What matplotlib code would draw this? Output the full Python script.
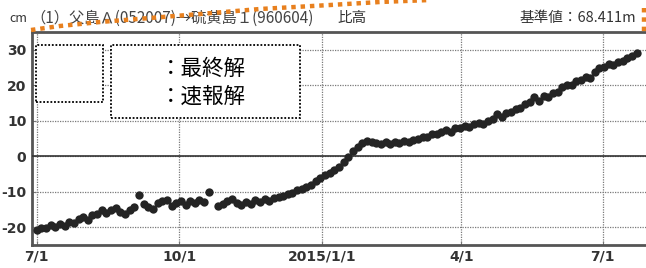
import numpy as np
import pandas as pd
import matplotlib
matplotlib.use('Agg')
import matplotlib.pyplot as plt
import matplotlib.dates as mdates
from matplotlib.lines import Line2D
from matplotlib.patches import Rectangle

plt.rcParams['axes.unicode_minus'] = False

#---DATA---
start_date = '2014-07-01'
step_days = 3
# height difference (cm), one reading every 3 days
heights = [-20.8, -20.3, -20.1, -19.4, -19.9, -19.0, -19.6, -18.4, -18.9, -17.6,
           -17.2, -17.9, -16.6, -16.2, -15.2, -16.0, -15.0, -14.6, -15.8, -16.3,
           -15.0, -14.3, -10.8, -13.4, -14.4, -14.8, -13.3, -12.7, -12.4, -13.9,
           -13.2, -12.6, -13.6, -12.5, -13.3, -12.2, -12.9, -10.1, np.nan, -13.9,
           -13.4, -12.5, -12.1, -13.1, -13.8, -12.8, -13.4, -12.4, -12.9, -12.1,
           -12.7, -11.8, -11.5, -11.2, -10.7, -10.3, -9.5, -9.2, -8.6, -8.1,
           -7.0, -6.2, -5.3, -4.7, -3.8, -2.9, -1.5, -0.3, 1.5, 2.6,
           3.6, 4.3, 4.1, 3.6, 3.4, 4.0, 3.5, 4.1, 3.6, 4.3,
           3.9, 4.7, 4.8, 5.4, 5.4, 6.2, 6.3, 6.9, 7.4, 6.9,
           7.9, 8.0, 8.6, 8.1, 9.1, 9.5, 9.0, 9.9, 10.4, 11.9,
           11.1, 12.1, 12.5, 13.3, 13.7, 14.8, 15.3, 16.6, 15.5, 17.1,
           16.6, 17.8, 18.2, 19.4, 20.2, 20.1, 21.2, 21.4, 22.2, 22.0,
           23.7, 24.9, 25.1, 25.9, 25.7, 26.6, 26.9, 27.7, 28.1, 29.2]
dates = pd.date_range(start_date, periods=len(heights), freq=f'{step_days}D')

xtick_dates = ['2014-07-01', '2014-10-01', '2015-01-01', '2015-04-01', '2015-07-01']
xtick_labels = ['7/1', '10/1', '2015/1/1', '4/1', '7/1']
yticks = [-20, -10, 0, 10, 20, 30]

title_left = '（1）父島Ａ(052007)→硫黄島１(960604)'
title_mid = '比高'
title_right = '基準値：68.411m'
legend_labels = ['：最終解', '：速報解']

#---FIGURE---
W, H = 646, 268
fig = plt.figure(figsize=(W / 100, H / 100), dpi=100)
ax = fig.add_axes([32 / W, 1 - 245 / H, 1 - 32 / W, (245 - 32) / H])

ax.plot(dates, heights, 'o', color='#242424', markersize=6.0, markeredgewidth=0, zorder=5)

ax.set_xlim(pd.Timestamp('2014-06-28'), pd.Timestamp('2015-07-29'))
ax.set_ylim(-25, 35)

ax.set_xticks([pd.Timestamp(d) for d in xtick_dates])
ax.set_xticklabels(xtick_labels)
ax.set_yticks(yticks)

tick_font = ['Liberation Sans Narrow', 'DejaVu Sans']
for lab in ax.get_xticklabels() + ax.get_yticklabels():
    lab.set_family(tick_font)
    lab.set_fontweight('bold')
    lab.set_fontsize(10)
    lab.set_color('#333333')
ax.tick_params(axis='y', length=3, width=0.8, color='#777777', direction='in', pad=4)
ax.tick_params(axis='x', length=3, width=0.8, color='#777777', direction='in', pad=3)

ax.grid(True, color='#7a7a7a', linestyle=(0, (1, 1)), linewidth=0.9)
ax.axhline(0, color='#333333', linewidth=1.2, zorder=3)

for side in ['left', 'bottom', 'top']:
    ax.spines[side].set_color('#555555')
    ax.spines[side].set_linewidth(2.0)
ax.spines['right'].set_visible(False)

#---TITLE TEXTS---
cjk = ['Noto Sans CJK JP', 'DejaVu Sans']
fig.text(9 / W, 1 - 18 / H, 'cm', fontsize=9, family=cjk, color='#333333', va='center')
fig.text(30 / W, 1 - 18 / H, title_left, fontsize=11, family=cjk, color='#444444', va='center')
fig.text(337 / W, 1 - 18 / H, title_mid, fontsize=10.5, family=cjk, color='#333333', va='center')
fig.text(520 / W, 1 - 18 / H, title_right, fontsize=10.5, family=cjk, color='#333333', va='center')

#---LEGEND BOXES---
def fig_rect(x0, y0, x1, y1):
    return Rectangle((x0 / W, 1 - y1 / H), (x1 - x0) / W, (y1 - y0) / H,
                     transform=fig.transFigure, fill=True, facecolor='white',
                     edgecolor='black', linestyle=(0, (1, 1)), linewidth=1.3, zorder=10)

fig.add_artist(fig_rect(36, 45, 103, 102))
fig.add_artist(fig_rect(111, 45, 300, 118))
fig.text(160 / W, 1 - 69 / H, legend_labels[0], fontsize=15.5, family=cjk, va='center', zorder=11)
fig.text(160 / W, 1 - 97 / H, legend_labels[1], fontsize=15.5, family=cjk, va='center', zorder=11)

#---ORANGE OVERLAY LINE---
ox = [31, 60, 100, 150, 200, 260, 330, 380, 430]
oy = [30, 26, 22, 18, 14, 9, 5, 2, 0]
fig.add_artist(Line2D([v / W for v in ox], [1 - v / H for v in oy], transform=fig.transFigure,
                      color='#E8801E', linewidth=3.2, linestyle=(0, (1, 1.1)), zorder=12))
fig.add_artist(Line2D([644 / W, 644 / W], [1 - 8 / H, 1 - 33 / H], transform=fig.transFigure,
                      color='#E8801E', linewidth=3.2, linestyle=(0, (1, 1.1)), zorder=12))

plt.savefig('out.png', dpi=100)
